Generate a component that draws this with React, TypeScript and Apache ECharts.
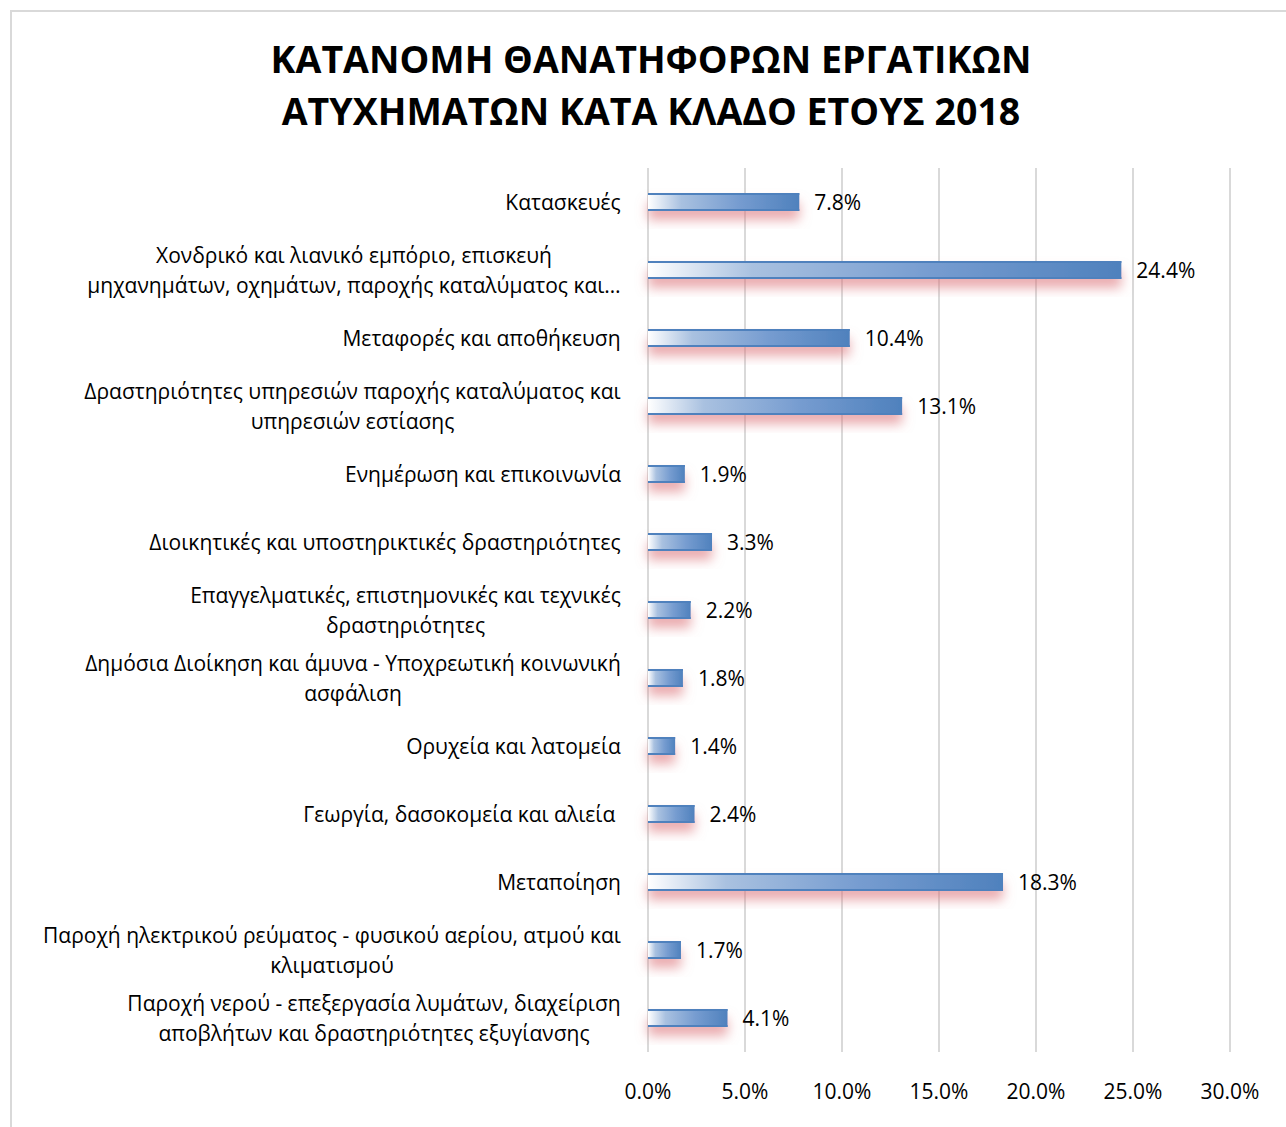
import React, { useEffect, useRef } from "react";
import * as echarts from "echarts";

const titleLines = ["ΚΑΤΑΝΟΜΗ ΘΑΝΑΤΗΦΟΡΩΝ ΕΡΓΑΤΙΚΩΝ", "ΑΤΥΧΗΜΑΤΩΝ ΚΑΤΑ ΚΛΑΔΟ ΕΤΟΥΣ 2018"];

const categories = [
  "Κατασκευές",
  "Χονδρικό και λιανικό εμπόριο, επισκευή\nμηχανημάτων, οχημάτων, παροχής καταλύματος και…",
  "Μεταφορές και αποθήκευση",
  "Δραστηριότητες υπηρεσιών παροχής καταλύματος και\nυπηρεσιών εστίασης",
  "Ενημέρωση και επικοινωνία",
  "Διοικητικές και υποστηρικτικές δραστηριότητες",
  "Επαγγελματικές, επιστημονικές και τεχνικές\nδραστηριότητες",
  "Δημόσια Διοίκηση και άμυνα - Υποχρεωτική κοινωνική\nασφάλιση",
  "Ορυχεία και λατομεία",
  "Γεωργία, δασοκομεία και αλιεία ",
  "Μεταποίηση",
  "Παροχή ηλεκτρικού ρεύματος - φυσικού αερίου, ατμού και\nκλιματισμού",
  "Παροχή νερού - επεξεργασία λυμάτων, διαχείριση\nαποβλήτων και δραστηριότητες εξυγίανσης",
];

const values = [7.8, 24.4, 10.4, 13.1, 1.9, 3.3, 2.2, 1.8, 1.4, 2.4, 18.3, 1.7, 4.1];

const axisMin = 0;
const axisMax = 30;
const axisInterval = 5;

const LABEL_FONT = '"Open Sans", sans-serif';
const LABEL_SIZE = 21;

export default function App() {
  const ref = useRef<HTMLDivElement>(null);

  useEffect(() => {
    if (!ref.current) return;
    const chart = echarts.init(ref.current, undefined, { renderer: "svg" });

    const canvas = document.createElement("canvas");
    const ctx = canvas.getContext("2d")!;
    ctx.font = `${LABEL_SIZE}px ${LABEL_FONT}`;
    const rich: Record<string, any> = {};
    categories.forEach((c, i) => {
      const lines = c.split("\n");
      const w = Math.max(...lines.map((l) => ctx.measureText(l).width));
      rich["l" + i] = {
        width: Math.ceil(w) + 2,
        align: "center",
        fontSize: LABEL_SIZE,
        fontFamily: LABEL_FONT,
        color: "#000",
        lineHeight: 30,
      };
    });

    const blue = "#4f81bd";

    chart.setOption({
      animation: false,
      backgroundColor: "#fff",
      graphic: [
        {
          type: "rect",
          shape: { x: 11, y: 11, width: 1300, height: 1140 },
          style: { fill: "none", stroke: "#d9d9d9", lineWidth: 2 },
          silent: true,
        },
      ],
      title: {
        text: titleLines.join("\n"),
        left: 646,
        textAlign: "center",
        top: 27,
        textStyle: {
          fontFamily: LABEL_FONT,
          fontWeight: "bold",
          fontSize: 37.5,
          lineHeight: 52,
          color: "#000",
        },
      },
      grid: { left: 648, right: 56, top: 168, bottom: 75, containLabel: false },
      xAxis: {
        type: "value",
        min: axisMin,
        max: axisMax,
        interval: axisInterval,
        axisLine: { show: false },
        axisTick: { show: false },
        splitLine: { show: true, lineStyle: { color: "#d9d9d9", width: 2 } },
        axisLabel: {
          formatter: (v: number) => v.toFixed(1) + "%",
          fontFamily: LABEL_FONT,
          fontSize: LABEL_SIZE,
          color: "#000",
          margin: 28,
        },
      },
      yAxis: {
        type: "category",
        data: categories,
        inverse: true,
        axisLine: { show: false },
        axisTick: { show: false },
        axisLabel: {
          margin: 26,
          fontFamily: LABEL_FONT,
          fontSize: LABEL_SIZE,
          color: "#000",
          lineHeight: 30,
          formatter: (value: string, index: number) =>
            value
              .split("\n")
              .map((l) => `{l${index}|${l}}`)
              .join("\n"),
          rich,
        },
      },
      series: [
        {
          type: "bar",
          data: values,
          barWidth: 18,
          itemStyle: {
            color: new echarts.graphic.LinearGradient(0, 0, 1, 0, [
              { offset: 0, color: "#ffffff" },
              { offset: 0.22, color: "#a9c1e0" },
              { offset: 0.6, color: "#769cd0" },
              { offset: 1, color: "#4f81bd" },
            ]),
            shadowColor: "rgba(220, 115, 120, 0.6)",
            shadowBlur: 12,
            shadowOffsetY: 9,
            shadowOffsetX: 0,
          },
          label: {
            show: true,
            position: "right",
            distance: 15,
            formatter: (p: any) => p.value.toFixed(1) + "%",
            fontFamily: LABEL_FONT,
            fontSize: LABEL_SIZE,
            color: "#000",
          },
        },
        {
          type: "bar",
          data: values,
          barWidth: 18,
          barGap: "-100%",
          silent: true,
          itemStyle: {
            color: new echarts.graphic.LinearGradient(0, 0, 0, 1, [
              { offset: 0, color: blue },
              { offset: 0.11, color: blue },
              { offset: 0.11, color: "rgba(79,129,189,0)" },
              { offset: 0.89, color: "rgba(79,129,189,0)" },
              { offset: 0.89, color: blue },
              { offset: 1, color: blue },
            ]),
          },
        },
      ],
    });

    return () => chart.dispose();
  }, []);

  return (
    <div
      ref={ref}
      style={{ position: "fixed", left: 0, top: 0, width: 1286, height: 1127 }}
    />
  );
}
